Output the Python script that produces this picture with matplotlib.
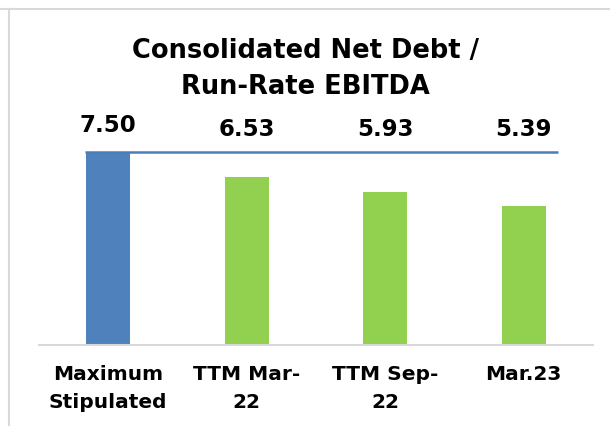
import matplotlib.pyplot as plt
from matplotlib.lines import Line2D

# data
categories = ["Maximum\nStipulated", "TTM Mar-\n22", "TTM Sep-\n22", "Mar.23"]
values = [7.50, 6.53, 5.93, 5.39]
limit = 7.50
bar_colors = ["#4F81BD", "#92D050", "#92D050", "#92D050"]

W, H = 610, 427
fig = plt.figure(figsize=(W / 100, H / 100), dpi=100)

# axes box in pixels
ax_left, ax_right, ax_bottom, ax_top = 39, 593, 346, 100
ax = fig.add_axes([ax_left / W, 1 - ax_bottom / H,
                   (ax_right - ax_left) / W, (ax_bottom - ax_top) / H])

px_per_unit = 25.73
ax.set_ylim(0, (ax_bottom - ax_top) / px_per_unit)
ax.set_xlim(-0.5, len(values) - 0.5)

x = range(len(values))
ax.bar(x, values, width=0.32, color=bar_colors, zorder=2)

# limit line
ax.hlines(limit, -0.17, 3.25, color="#4A7EBB", linewidth=1.8, zorder=3)

# value labels
label_px = [125, 130, 130, 130]
for i, v in enumerate(values):
    ax.text(i, (ax_bottom - label_px[i]) / px_per_unit, f"{v:.2f}",
            ha="center", va="center", fontsize=16.5, fontweight="bold")

ax.set_xticks(list(x))
ax.set_xticklabels(categories, fontsize=14.5, fontweight="bold", linespacing=1.6)
ax.tick_params(axis="x", length=0, pad=14)
ax.set_yticks([])
for s in ["top", "right", "left"]:
    ax.spines[s].set_visible(False)
ax.spines["bottom"].set_color("#D9D9D9")
ax.spines["bottom"].set_linewidth(1.5)

fig.text(305 / W, 1 - 69 / H, "Consolidated Net Debt /\nRun-Rate EBITDA",
         ha="center", va="center", fontsize=18.5, fontweight="bold",
         linespacing=1.5)

# chart frame
fig.add_artist(Line2D([0, 1], [1 - 10 / H, 1 - 10 / H], color="#D9D9D9", linewidth=1.5))
fig.add_artist(Line2D([9 / W, 9 / W], [0, 1 - 10 / H], color="#D9D9D9", linewidth=1.5))

fig.savefig("out.png", dpi=100)
